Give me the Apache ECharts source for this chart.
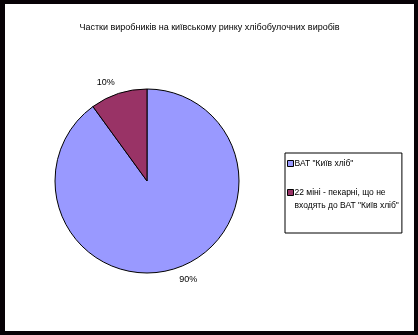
<!DOCTYPE html>
<html>
<head>
<meta charset="utf-8">
<script src="https://cdn.jsdelivr.net/npm/echarts@6/dist/echarts.min.js"></script>
<style>
html, body { margin: 0; padding: 0; background: #000; }
#frame { position: absolute; left: 0; top: 0; width: 418px; height: 335px; box-sizing: border-box;
  border-style: solid; border-color: #070206; border-width: 4px 4px 4px 5px; background: #fff; }
#c { width: 409px; height: 327px; }
</style>
</head>
<body>
<div id="frame"><div id="c"></div></div>
<script>
var titleText = 'Частки виробників на київському ринку хлібобулочних виробів';
var categories = ['ВАТ "Київ хліб"', '22 міні - пекарні, що не\nвходять до ВАТ "Київ хліб"'];
var values = [90, 10];
var colors = ['#9999FF', '#993366'];

var FONT = 'Liberation Sans';
var chart = echarts.init(document.getElementById('c'), null, { renderer: 'canvas' });
chart.setOption({
  animation: false,
  backgroundColor: '#fff',
  title: {
    text: titleText,
    left: 'center',
    top: 19,
    padding: 0,
    textStyle: { fontFamily: FONT, fontSize: 9, fontWeight: 'normal', color: '#000' }
  },
  legend: {
    orient: 'vertical',
    left: 280,
    top: 149,
    padding: [4, 3, 21, 2],
    itemGap: 3,
    itemWidth: 6,
    itemHeight: 6,
    icon: 'rect',
    borderColor: '#000',
    borderWidth: 1,
    borderRadius: 0,
    selectedMode: false,
    itemStyle: { borderColor: '#000', borderWidth: 1 },
    formatter: function (name) {
      // multi-line entries: keep the marker level with the first line
      return name.indexOf('\n') >= 0 ? '\n' + name : name;
    },
    textStyle: { fontFamily: FONT, fontSize: 8.5, color: '#000', lineHeight: 13, padding: [0, 0, 0, -4] },
    data: categories
  },
  series: [{
    type: 'pie',
    center: [142, 177],
    radius: 92,
    startAngle: 90,
    clockwise: true,
    percentPrecision: 0,
    avoidLabelOverlap: false,
    emphasis: { disabled: true },
    data: categories.map(function (name, i) {
      return { name: name, value: values[i], itemStyle: { color: colors[i] } };
    }),
    itemStyle: { borderColor: '#000', borderWidth: 1 },
    label: {
      show: true,
      position: 'outside',
      formatter: '{d}%',
      fontFamily: FONT,
      fontSize: 9,
      color: '#000',
      distanceToLabelLine: 0
    },
    labelLine: { show: false, length: 12, length2: 0 }
  }]
});
</script>
</body>
</html>
